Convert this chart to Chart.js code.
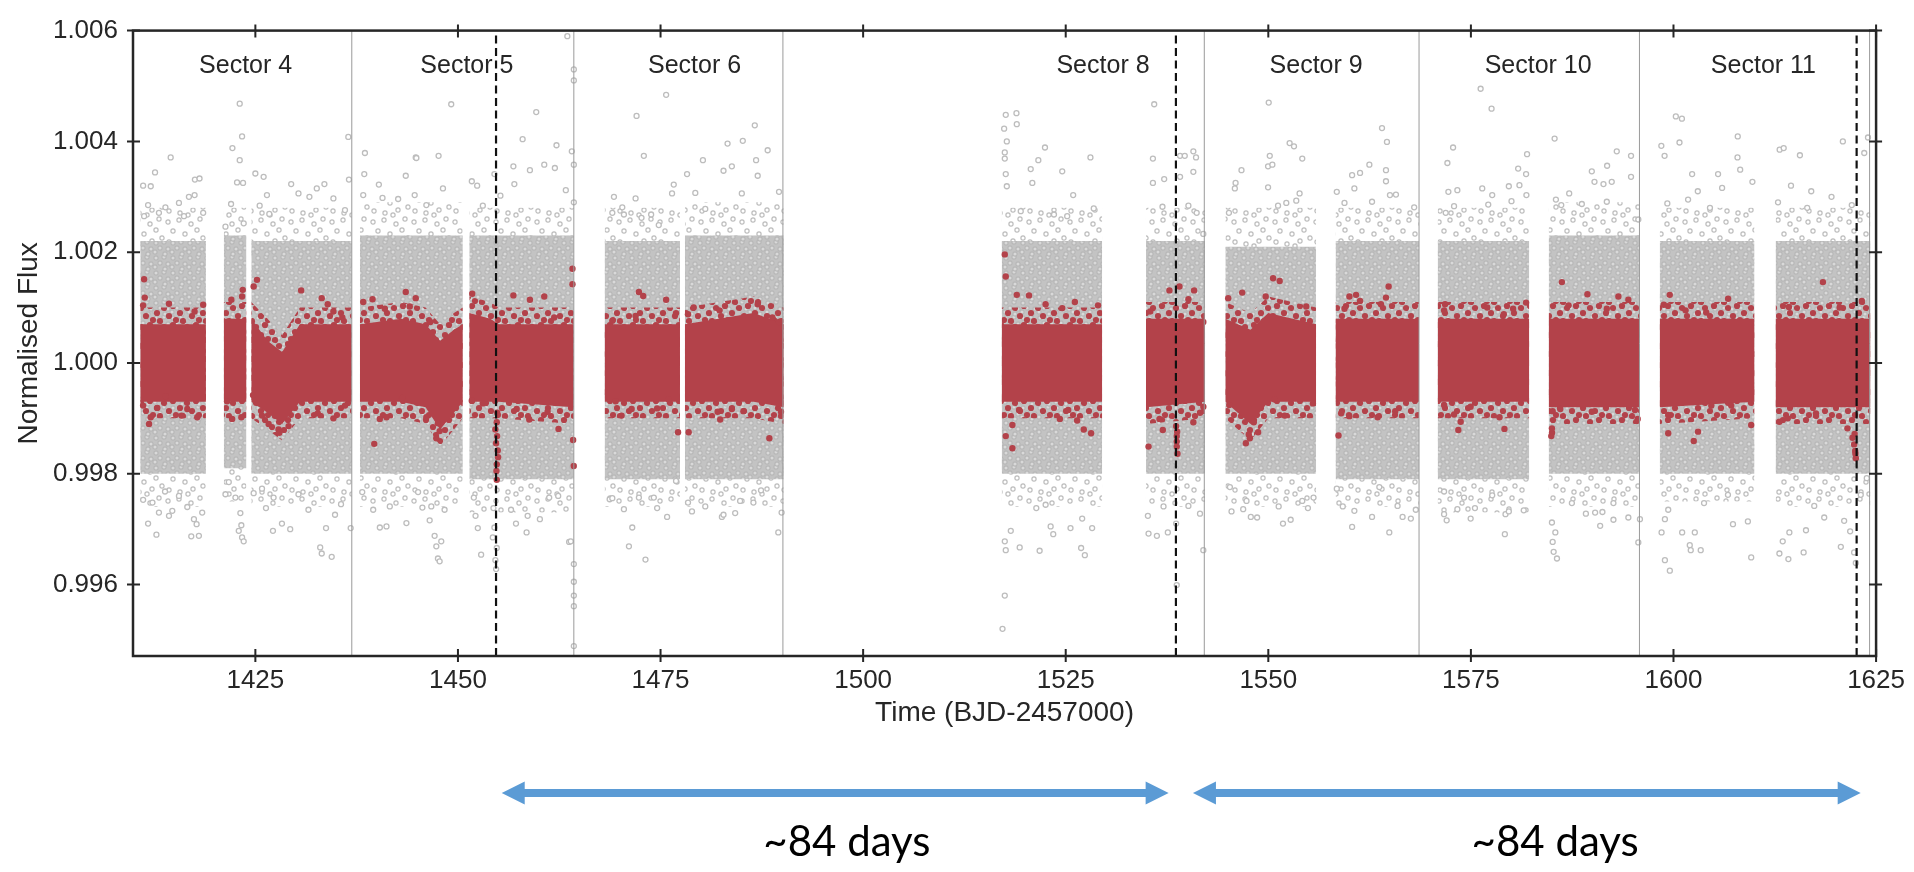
<!DOCTYPE html>
<html>
<head>
<meta charset="utf-8">
<title>Light curve, sectors 4-11</title>
<script src="https://cdn.jsdelivr.net/npm/chart.js@4.4.0/dist/chart.umd.min.js"></script>
<style>
  html, body { margin: 0; padding: 0; background: #fff; }
</style>
</head>
<body>
<canvas id="lc" width="1914" height="872"></canvas>
<script>
// axis limits
const X_MIN = 1409.9, X_MAX = 1625;
const Y_MIN = 0.99471, Y_MAX = 1.006;

// orbit segments (time ranges with data)
const segStart = [1410.8, 1421.1, 1424.5, 1437.9, 1451.4, 1468.1, 1478.0, 1517.1, 1534.9, 1544.7, 1558.3, 1570.9, 1584.6, 1598.3, 1612.6];
const segEnd   = [1418.9, 1423.9, 1436.9, 1450.6, 1464.3, 1477.4, 1490.2, 1529.5, 1542.2, 1555.9, 1568.6, 1582.2, 1595.8, 1610.0, 1624.3];
// dense part of the raw (grey) cloud, and its thinner fringe
const grayHi   = [1.0022, 1.0023, 1.0022, 1.0023, 1.0023, 1.0022, 1.0023, 1.0022, 1.0022, 1.0021, 1.0022, 1.0022, 1.0023, 1.0022, 1.0022];
const grayLo   = [0.9980, 0.9981, 0.9980, 0.9980, 0.9979, 0.9979, 0.9979, 0.9980, 0.9980, 0.9980, 0.9979, 0.9979, 0.9980, 0.9980, 0.9980];
const fringeHi = [1.0028, 1.0028, 1.0028, 1.0029, 1.0028, 1.0028, 1.0029, 1.0028, 1.0028, 1.0028, 1.0028, 1.0028, 1.0029, 1.0028, 1.0028];
const fringeLo = [0.9974, 0.9975, 0.9974, 0.9974, 0.9973, 0.9974, 0.9974, 0.9974, 0.9974, 0.9974, 0.9974, 0.9973, 0.9974, 0.9975, 0.9974];

// binned (red) cloud: solid core and ragged edge, knots per segment split by null
const redKnotT = [
  1410.8, 1418.9, null,
  1421.1, 1423.9, null,
  1424.5, 1426.5, 1428.3, 1430.5, 1436.9, null,
  1437.9, 1443.0, 1446.0, 1447.8, 1449.5, 1450.6, null,
  1451.4, 1454.0, 1455.0, 1464.3, null,
  1468.1, 1477.4, null,
  1478.0, 1486.5, 1490.2, null,
  1517.1, 1529.5, null,
  1534.9, 1542.2, null,
  1544.7, 1547.8, 1550.0, 1555.9, null,
  1558.3, 1568.6, null,
  1570.9, 1582.2, null,
  1584.6, 1595.8, null,
  1598.3, 1610.0, null,
  1612.6, 1624.3
];
const redHi = [
  1.0007, 1.0007, null,
  1.0008, 1.0008, null,
  1.0008, 1.0004, 1.0002, 1.0007, 1.0007, null,
  1.0007, 1.0008, 1.0007, 1.0004, 1.0006, 1.0007, null,
  1.0009, 1.0008, 1.0007, 1.0007, null,
  1.0007, 1.0007, null,
  1.0007, 1.0009, 1.0007, null,
  1.0007, 1.0007, null,
  1.0008, 1.0008, null,
  1.0008, 1.0006, 1.0009, 1.0007, null,
  1.0008, 1.0008, null,
  1.0008, 1.0008, null,
  1.0008, 1.0008, null,
  1.0008, 1.0008, null,
  1.0008, 1.0008
];
const redLo = [
  0.9993, 0.9993, null,
  0.9993, 0.9993, null,
  0.9993, 0.9991, 0.9989, 0.9993, 0.9993, null,
  0.9993, 0.9993, 0.9992, 0.9988, 0.9991, 0.9993, null,
  0.9993, 0.9993, 0.9993, 0.9992, null,
  0.9993, 0.9993, null,
  0.9993, 0.9993, 0.9992, null,
  0.9993, 0.9993, null,
  0.9992, 0.9993, null,
  0.9993, 0.9989, 0.9993, 0.9993, null,
  0.9993, 0.9993, null,
  0.9993, 0.9993, null,
  0.9992, 0.9992, null,
  0.9992, 0.9993, null,
  0.9992, 0.9992
];
const redOuterHi = [
  1.0010, 1.0010, null,
  1.0011, 1.0011, null,
  1.0011, 1.0008, 1.0005, 1.0010, 1.0010, null,
  1.0010, 1.0011, 1.0010, 1.0007, 1.0009, 1.0010, null,
  1.0012, 1.0011, 1.0010, 1.0010, null,
  1.0010, 1.0010, null,
  1.0010, 1.0012, 1.0010, null,
  1.0010, 1.0010, null,
  1.0011, 1.0011, null,
  1.0011, 1.0009, 1.0012, 1.0010, null,
  1.0011, 1.0011, null,
  1.0011, 1.0011, null,
  1.0011, 1.0011, null,
  1.0011, 1.0011, null,
  1.0011, 1.0011
];
const redOuterLo = [
  0.9990, 0.9990, null,
  0.9990, 0.9990, null,
  0.9990, 0.9988, 0.9986, 0.9990, 0.9990, null,
  0.9990, 0.9990, 0.9989, 0.9985, 0.9988, 0.9990, null,
  0.9990, 0.9990, 0.9990, 0.9989, null,
  0.9990, 0.9990, null,
  0.9990, 0.9990, 0.9989, null,
  0.9990, 0.9990, null,
  0.9989, 0.9990, null,
  0.9990, 0.9986, 0.9990, 0.9990, null,
  0.9990, 0.9990, null,
  0.9990, 0.9990, null,
  0.9989, 0.9989, null,
  0.9989, 0.9990, null,
  0.9989, 0.9989
];

// scattered raw points outside the dense cloud [time, flux]
const grayS4 = [
  [1411.15,1.0032],[1412.09,1.00319],[1412.62,1.00344],[1414.55,1.00371],[1417.54,1.00331],[1418.11,1.00333],[1418.56,1.00271],[1411.76,1.00285],
  [1413.1,1.00271],[1415.57,1.00289],[1416.8,1.003],[1417.5,1.00303],[1413.9,1.00281],[1411.27,1.00265],[1416.19,1.00265],
  [1411.15,0.99753],[1411.76,0.9971],[1412.79,0.9969],[1413.1,0.9973],[1414.34,0.99724],[1414.75,0.99733],[1417.09,0.99687],[1418.03,0.99688],
  [1417.42,0.99718],[1417.75,0.99709],[1416.6,0.9974],[1418.44,0.9973],[1412.3,0.99748],[1413.85,0.99768],[1415.57,0.9976],
  [1423.07,1.00468],[1423.36,1.00409],[1422.17,1.00388],[1423.07,1.00366],[1422.74,1.00326],[1423.48,1.00325],[1422.0,1.00287],[1421.31,1.00246],[1423.56,1.00252],
  [1421.31,0.99763],[1421.72,0.99785],[1422.54,0.99757],[1423.15,0.99729],[1422.95,0.99697],[1423.36,0.99685],[1423.56,0.99678],[1423.27,0.99707],
  [1425.0,1.00342],[1426.02,1.00336],[1426.43,1.00303],[1429.42,1.00323],[1431.67,1.003],[1432.58,1.00315],[1433.52,1.00323],[1434.63,1.00297],
  [1436.47,1.00408],[1436.55,1.00331],[1426.72,1.00269],[1430.32,1.00306],[1436.06,1.00276],[1425.53,1.00284],
  [1424.79,0.99765],[1425.82,0.99773],[1426.31,0.99738],[1427.25,0.99757],[1428.28,0.9971],[1429.3,0.997],[1427.17,0.99697],[1433.0,0.99667],
  [1433.19,0.99656],[1434.42,0.9965],[1433.72,0.99702],[1434.83,0.99726],[1435.57,0.99745],[1436.76,0.99702],[1431.55,0.99735],[1430.32,0.99763]
];
const grayS5 = [
  [1438.52,1.00379],[1438.44,1.00341],[1440.24,1.00322],[1443.56,1.00338],[1444.79,1.00371],[1447.61,1.00374],[1449.17,1.00467],[1440.69,1.00298],
  [1444.66,1.00303],[1446.1,1.00285],[1448.15,1.00315],[1442.62,1.00296],[1438.31,1.00303],[1444.87,1.0037],
  [1447.12,0.99688],[1447.33,0.99669],[1447.53,0.99647],[1447.74,0.99642],[1447.94,0.99678],[1446.51,0.99716],[1446.71,0.99741],[1448.35,0.99735],
  [1438.19,0.99767],[1439.54,0.99735],[1440.36,0.99703],[1441.18,0.99705],[1441.59,0.99741],[1443.64,0.99711],[1445.61,0.99739],[1445.08,0.99767],
  [1451.71,1.00328],[1452.37,1.0032],[1454.5,1.00341],[1456.84,1.00355],[1457.98,1.00404],[1459.66,1.00453],[1462.16,1.00393],[1458.88,1.00348],
  [1460.65,1.00358],[1461.96,1.00352],[1464.05,1.00382],[1456.96,1.00323],[1463.31,1.00312],[1453.07,1.00284],[1455.24,1.00302],
  [1464.3,1.0053],[1464.3,1.0051],[1463.5,1.0059],[1464.3,1.00358],[1464.3,1.0029],
  [1454.79,0.99666],[1454.62,0.99644],[1454.71,0.99628],[1454.5,0.99703],[1454.3,0.99685],[1454.38,0.99738],
  [1451.96,0.99757],[1452.17,0.99724],[1452.45,0.99702],[1452.86,0.99654],[1457.16,0.9971],[1458.47,0.99694],[1460.11,0.99718],[1458.6,0.99724],
  [1462.37,0.9976],[1463.72,0.99677],[1456.55,0.99735],[1461.26,0.99757],
  [1463.92,0.99678],[1464.3,0.99637],[1464.3,0.99605],[1464.3,0.9958],[1464.3,0.99561],[1464.3,0.99489]
];
const grayS6 = [
  [1475.69,1.00484],[1472.04,1.00446],[1472.94,1.00374],[1469.25,1.003],[1471.92,1.00297],[1473.84,1.00268],[1476.63,1.00322],[1476.42,1.00306],
  [1470.48,1.00268],[1470.28,1.00281],[1472.65,1.00262],[1474.78,1.00249],[1469.05,1.00271],
  [1468.72,0.99754],[1469.05,0.99756],[1470.48,0.99736],[1471.51,0.99703],[1471.1,0.99669],[1473.14,0.99645],[1474.58,0.99738],[1475.81,0.99722],
  [1476.91,0.99787],[1472.33,0.99757],[1474.17,0.99757],
  [1478.27,1.00341],[1479.29,1.00307],[1480.23,1.00366],[1483.27,1.00396],[1485.15,1.00401],[1486.63,1.00429],[1488.22,1.00384],[1486.79,1.00366],
  [1483.8,1.00355],[1482.77,1.00347],[1489.62,1.00309],[1486.99,1.00338],[1485.03,1.00306],[1480.52,1.00278],
  [1478.39,0.99748],[1478.88,0.99732],[1482.57,0.99722],[1482.77,0.99726],[1484.21,0.99729],[1486.46,0.99748],[1487.4,0.9977],[1489.53,0.99694],
  [1489.94,0.9973],[1484.82,0.99751],[1480.52,0.99741]
];
const grayS8 = [
  [1517.6,1.00448],[1518.92,1.00451],[1518.96,1.00431],[1517.4,1.00423],[1517.73,1.004],[1517.48,1.0038],[1517.48,1.00369],[1522.44,1.00389],
  [1521.62,1.00366],[1524.57,1.00346],[1528.05,1.00371],[1520.68,1.0035],[1517.6,1.00341],[1517.73,1.00319],[1520.88,1.00325],[1525.92,1.00303],
  [1528.46,1.00279],[1525.18,1.00265],[1523.55,1.00268],[1519.45,1.00274],
  [1517.2,0.9952],[1517.48,0.9958],[1517.6,0.99662],[1517.48,0.99678],[1518.22,0.99697],[1519.32,0.99667],[1521.78,0.99661],[1526.9,0.99666],
  [1527.36,0.99653],[1523.14,0.99705],[1523.46,0.99691],[1525.59,0.99702],[1528.26,0.99702],[1521.37,0.99738],[1522.52,0.99744],[1527.03,0.99719],
  [1535.92,1.00467],[1535.76,1.00369],[1537.15,1.00332],[1535.76,1.00325],[1539.11,1.00374],[1540.75,1.00382],[1541.08,1.00371],[1539.69,1.00374],
  [1539.11,1.00336],[1540.75,1.00345],[1536.94,1.00282],[1540.14,1.00284],[1541.16,1.00271],[1541.98,1.00233],
  [1535.14,0.99724],[1536.25,0.99688],[1537.6,0.99694],[1535.22,0.99692],[1538.62,0.9971],[1538.7,0.99599],[1541.98,0.99662],[1541.57,0.99728],
  [1540.14,0.99742],[1537.07,0.99741]
];
const grayS9 = [
  [1550.05,1.0047],[1552.63,1.00397],[1553.17,1.00391],[1554.19,1.00369],[1550.18,1.00374],[1549.97,1.00355],[1550.5,1.00358],[1546.69,1.00348],
  [1545.96,1.00325],[1545.87,1.00315],[1549.97,1.00317],[1553.86,1.00306],[1551.2,1.00284],[1552.22,1.00289],[1545.14,1.00271],[1553.45,1.00293],
  [1545.46,0.99732],[1545.26,0.99776],[1546.9,0.99736],[1547.84,0.99722],[1548.62,0.99721],[1551.81,0.9971],[1552.76,0.99717],[1554.19,0.99751],
  [1555.58,0.99757],[1554.89,0.99738],[1551.28,0.99741],[1547.31,0.99751],
  [1564.03,1.00424],[1564.64,1.00399],[1564.52,1.00348],[1562.47,1.00358],[1560.34,1.00339],[1561.32,1.00343],[1558.45,1.00309],[1560.62,1.00315],
  [1564.52,1.00328],[1565.01,1.00303],[1565.75,1.00304],[1568.0,1.00281],[1559.4,1.00289],[1562.8,1.00291],
  [1558.45,0.99773],[1559.19,0.99741],[1560.34,0.99704],[1560.62,0.99733],[1562.8,0.99722],[1564.93,0.99694],[1565.95,0.99742],[1566.57,0.99722],
  [1567.59,0.99719],[1568.2,0.99735],[1563.7,0.99776]
];
const grayS10 = [
  [1576.2,1.00495],[1577.55,1.00459],[1572.8,1.00389],[1572.1,1.00361],[1581.93,1.00377],[1580.83,1.00351],[1581.81,1.00341],[1572.22,1.00309],
  [1573.33,1.00312],[1576.4,1.00315],[1577.63,1.00303],[1579.68,1.00319],[1580.99,1.00321],[1581.85,1.00303],[1571.89,1.00271],[1572.92,1.00283],
  [1580.01,1.00292],[1577.14,1.00286],
  [1571.69,0.99768],[1571.69,0.99727],[1572.01,0.99716],[1573.33,0.99736],[1574.97,0.99719],[1575.5,0.99738],[1579.27,0.99727],[1579.19,0.99691],
  [1579.68,0.99732],[1581.52,0.99734],[1577.63,0.99761],[1574.15,0.99757],
  [1585.33,1.00405],[1593.0,1.00382],[1594.76,1.00374],[1591.81,1.00356],[1594.76,1.00336],[1589.92,1.00346],[1590.25,1.00327],[1591.36,1.00323],
  [1592.38,1.00327],[1585.49,1.00295],[1587.13,1.00306],[1586.15,1.00285],[1588.69,1.00287],[1591.77,1.00291],[1595.66,1.00259],
  [1585.0,0.99712],[1585.21,0.99659],[1585.62,0.99647],[1585.09,0.99677],[1585.42,0.99694],[1589.19,0.99728],[1590.33,0.9973],[1590.95,0.99706],
  [1591.23,0.99731],[1592.59,0.99717],[1594.43,0.99721],[1595.66,0.99676],[1595.86,0.99718],[1592.59,0.99747],[1587.46,0.99747]
];
const grayS11 = [
  [1600.29,1.00445],[1601.04,1.00441],[1598.5,1.00392],[1600.74,1.00398],[1607.93,1.00409],[1608.23,1.00349],[1603.0,1.0031],[1606.0,1.00316],
  [1599.24,1.00288],[1609.74,1.00327],[1598.9,1.00374],[1607.9,1.00371],[1602.3,1.00341],[1605.5,1.00341],[1604.5,1.0028],[1601.8,1.00295],
  [1598.94,0.99644],[1599.55,0.99625],[1598.53,0.99694],[1598.94,0.99718],[1599.35,0.99735],[1602.01,0.99671],[1602.13,0.99662],[1603.36,0.99662],
  [1602.63,0.99694],[1601.07,0.99694],[1607.34,0.99709],[1609.59,0.99649],[1609.18,0.99714],[1603.77,0.99747],[1606.72,0.99762],
  [1613.1,1.00385],[1613.6,1.00388],[1615.6,1.00375],[1620.9,1.004],[1623.54,1.00379],[1624.0,1.00407],[1617.0,1.0031],[1619.5,1.003],
  [1614.5,1.0032],[1622.0,1.00285],[1616.5,1.0028],[1612.9,1.0029],
  [1613.07,0.99656],[1614.18,0.99646],[1613.48,0.99678],[1616.06,0.99658],[1616.35,0.99698],[1614.3,0.99694],[1620.65,0.99668],[1621.8,0.99696],
  [1622.29,0.99658],[1622.5,0.99639],[1621.06,0.99715],[1618.6,0.99721],[1623.85,0.99792],[1623.11,0.99762],[1617.37,0.99742]
];

// scattered binned points around the dense red band [time, flux]
const redS4 = [
  [1411.27,1.00151],[1411.35,1.00118],[1411.15,1.00104],[1414.34,1.00107],[1417.5,1.00093],[1418.56,1.00105],[1411.88,0.9989],[1412.09,0.99902],
  [1411.15,0.99923],[1412.9,0.99919],[1415.9,0.99905],[1417.83,0.99902],[1416.6,0.99917],[1413.93,0.9994],
  [1423.44,1.00132],[1422.04,1.00114],[1421.51,0.99931],[1422.13,0.99899],[1423.27,0.99902],[1423.36,1.0012],
  [1425.2,1.0015],[1424.79,1.00138],[1430.65,1.00131],[1433.19,1.00117],[1433.93,1.00106],[1434.63,1.00093],[1435.73,1.00082],[1426.64,0.9989],
  [1427.86,0.9988],[1427.95,0.99874],[1429.1,0.99886],[1432.7,0.99909],[1434.63,0.999],[1436.06,0.99923],[1424.71,0.99942],[1425.82,0.99905]
];
const redS5 = [
  [1438.31,1.0011],[1439.46,1.00115],[1440.98,1.00098],[1443.56,1.00128],[1444.05,1.00102],[1444.79,1.00117],[1446.59,1.00074],[1439.67,0.99854],
  [1440.36,0.99899],[1441.18,0.99902],[1446.1,0.99902],[1447.33,0.99864],[1447.74,0.99877],[1447.53,0.99891],[1443.11,0.99937],
  [1451.76,1.00125],[1456.84,1.00122],[1458.88,1.00114],[1460.65,1.0012],[1464.13,1.0017],[1464.13,1.00142],[1461.88,1.00082],[1451.71,0.99932],
  [1453.07,0.99927],[1457.25,0.99917],[1458.8,0.99898],[1462.41,0.99881],[1464.21,0.99861],[1464.29,0.99814],[1461.06,0.99912],
  [1454.79,0.99893],[1454.83,0.99868],[1454.91,0.99842],[1454.79,0.99817],[1454.79,0.99789],[1454.71,0.99855],[1454.95,0.9983],[1454.62,0.9988],
  [1454.75,0.99805],[1454.85,0.9991]
];
const redS6 = [
  [1469.05,1.00076],[1472.33,1.00128],[1472.86,1.00121],[1475.69,1.00114],[1471.92,1.00085],[1476.91,1.0009],[1470.19,0.99905],[1471.43,0.99917],
  [1474.58,0.99918],[1477.16,0.99875],[1476.01,0.99934],[1469.46,0.99931],
  [1478.39,1.00088],[1479.09,1.001],[1482.28,1.00095],[1486.99,1.00106],[1488.8,1.00082],[1489.62,1.00074],[1478.47,0.99875],[1482.36,0.99898],
  [1482.04,0.99912],[1485.23,0.99913],[1488.43,0.99864],[1489.86,0.99912],[1483.8,0.99917]
];
const redS8 = [
  [1517.48,1.00196],[1517.6,1.00156],[1518.96,1.00123],[1520.47,1.00122],[1522.52,1.00106],[1524.57,1.00099],[1526.13,1.0011],[1528.99,1.00104],
  [1517.6,0.99868],[1518.42,0.99846],[1518.42,0.99888],[1519.24,0.99915],[1524.28,0.99899],[1525.31,0.99915],[1527.23,0.9988],[1528.13,0.99873],
  [1526.41,0.99896],
  [1537.8,1.00131],[1539.03,1.00138],[1540.14,1.00115],[1540.84,1.00131],[1535.43,1.00093],[1541.98,1.00074],[1535.22,0.99849],[1536.57,0.99899],
  [1536.98,0.99879],[1538.7,0.99868],[1538.7,0.99849],[1538.79,0.99836],[1538.62,0.99886],[1541.57,0.9991],[1541.98,0.99921],[1540.75,0.99893],
  [1538.7,0.99858],[1538.75,0.99876]
];
const redS9 = [
  [1545.05,1.00117],[1546.78,1.00127],[1550.59,1.00153],[1551.4,1.00148],[1549.68,1.0012],[1554.68,1.00102],[1547.59,0.99871],[1548.21,0.99893],
  [1547.23,0.99855],[1547.72,0.99864],[1548.74,0.99875],[1550.79,0.99934],[1552.02,0.99905],[1545.18,0.99924],[1555.5,0.99927],
  [1560.01,1.0012],[1560.83,1.00123],[1561.32,1.00112],[1564.85,1.00138],[1564.52,1.00118],[1563.9,1.00106],[1559.4,1.00098],[1558.66,0.99869],
  [1558.99,0.99909],[1560.01,0.99904],[1563.49,0.99902],[1565.66,0.99913],[1568.2,0.99937]
];
const redS10 = [
  [1571.81,1.00106],[1571.69,1.00095],[1577.02,1.001],[1579.06,1.00088],[1580.21,1.00098],[1581.81,1.00109],[1572.92,0.99907],[1573.74,0.99894],
  [1573.45,0.99879],[1574.97,0.99921],[1578.53,0.99902],[1579.14,0.99881],[1571.69,0.99924],
  [1586.23,1.00146],[1589.38,1.00124],[1593.2,1.0012],[1594.43,1.00114],[1587.05,1.00104],[1591.77,1.00098],[1585.01,0.99874],[1584.92,0.99868],
  [1585.09,0.99913],[1586.03,0.99917],[1589.92,0.99912],[1595.58,0.99899],[1595.25,0.99915],[1585.0,0.99882]
];
const redS11 = [
  [1599.35,0.99873],[1602.5,0.99859],[1603.03,0.99876],[1609.59,0.99888],[1599.35,0.99906],[1607.13,0.99923],[1604.67,0.99923],[1599.54,1.00123],
  [1604.04,1.00091],[1606.74,1.00116],[1601.49,1.00095],[1598.8,1.00105],
  [1613.07,0.99894],[1614.1,0.999],[1617.58,0.99909],[1621.47,0.99882],[1622.09,0.99865],[1622.42,0.99841],[1622.5,0.99828],[1622.29,0.99853],
  [1622.45,0.99836],[1622.35,0.99872],[1618.44,1.00146],[1623.24,1.00112],[1614.24,1.00101],[1620.5,1.001]
];

// sector boundaries (thin grey) and the marked times (dashed)
const sectorEdges = [1436.9, 1464.3, 1490.1, 1542.1, 1568.6, 1595.8, 1624.2];
const dashedTimes = [1454.7, 1538.6, 1622.6];
const sectorNames = ['Sector 4', 'Sector 5', 'Sector 6', 'Sector 8', 'Sector 9', 'Sector 10', 'Sector 11'];
const sectorLabelT = [1423.8, 1451.1, 1479.2, 1529.6, 1555.9, 1583.3, 1611.1];
const sectorLabelF = 1.00535;

// ~84 day spans drawn under the axis
const arrowFrom = [1455.4, 1540.7];
const arrowTo = [1537.7, 1623.1];
const arrowLabelT = [1498.0, 1585.4];
const arrowLabels = ['~84 days', '~84 days'];

const GRAY = '#bdbdbd';
const RED = '#b3424a';

// texture tiles so the dense bands read like a cloud of markers
function markTile(w, h, bg, spots, radius, stroke, inner) {
  const c = document.createElement('canvas');
  c.width = w; c.height = h;
  const g = c.getContext('2d');
  if (bg) { g.fillStyle = bg; g.fillRect(0, 0, w, h); }
  spots.forEach(p => {
    for (let dx = -w; dx <= w; dx += w) {
      for (let dy = -h; dy <= h; dy += h) {
        g.beginPath();
        g.arc(p[0] + dx, p[1] + dy, radius, 0, Math.PI * 2);
        g.fillStyle = inner;
        g.fill();
        if (stroke) { g.lineWidth = 1.2; g.strokeStyle = stroke; g.stroke(); }
      }
    }
  });
  return g.createPattern(c, 'repeat');
}
const coreFill = markTile(17, 15, '#c3c3c3',
  [[3, 3], [11, 2], [7, 8], [15, 9], [2, 12], [12, 14]], 2.1, '#b8b8b8', '#d9d9d9');
const fringeFill = markTile(41, 31, null,
  [[4, 5], [15, 3], [27, 7], [36, 2], [9, 14], [21, 17], [33, 13], [5, 25], [16, 27], [29, 24], [39, 21], [24, 29]],
  2.1, '#bdbdbd', '#ffffff');
const redEdgeFill = markTile(23, 19, null,
  [[3, 4], [12, 2], [19, 9], [8, 12], [15, 16], [22, 17]], 3.1, null, RED);

function toXY(pairs) {
  return pairs.map(p => ({ x: p[0], y: p[1] }));
}

function bandPair(upper, lower, color, order) {
  return [
    { type: 'line', data: upper, borderWidth: 0, pointRadius: 0, fill: '+1', backgroundColor: color, tension: 0, order: order },
    { type: 'line', data: lower, borderWidth: 0, pointRadius: 0, fill: false, tension: 0, order: order }
  ];
}

const datasets = [];

// vertical lines
dashedTimes.forEach(t => {
  datasets.push({ type: 'line', data: [{ x: t, y: Y_MIN }, { x: t, y: Y_MAX }], borderColor: '#111',
    borderWidth: 2.2, borderDash: [8, 4.5], pointRadius: 0, fill: false, order: 0 });
});
sectorEdges.forEach(t => {
  datasets.push({ type: 'line', data: [{ x: t, y: Y_MIN }, { x: t, y: Y_MAX }], borderColor: '#9a9a9a',
    borderWidth: 1, pointRadius: 0, fill: false, order: 1 });
});

// red binned points
datasets.push({
  type: 'scatter', data: toXY([].concat(redS4, redS5, redS6, redS8, redS9, redS10, redS11)),
  pointRadius: 3.2, pointBackgroundColor: RED, pointBorderWidth: 0, order: 2
});

// red band: solid core plus dotted edge, one pair per segment
let knotIdx = [];
const redSegs = [];
redKnotT.forEach((t, i) => {
  if (t === null) { redSegs.push(knotIdx); knotIdx = []; return; }
  knotIdx.push(i);
});
if (knotIdx.length) redSegs.push(knotIdx);
redSegs.forEach(idx => {
  const pts = arr => idx.map(i => ({ x: redKnotT[i], y: arr[i] }));
  datasets.push(...bandPair(pts(redHi), pts(redLo), RED, 3));
  datasets.push(...bandPair(pts(redOuterHi), pts(redOuterLo), redEdgeFill, 3.5));
});

// raw grey points
datasets.push({
  type: 'scatter', data: toXY([].concat(grayS4, grayS5, grayS6, grayS8, grayS9, grayS10, grayS11)),
  pointRadius: 2.5, pointBackgroundColor: '#fff', pointBorderColor: GRAY, pointBorderWidth: 1.3, order: 4
});

// grey dense band and fringe
segStart.forEach((s, i) => {
  const e = segEnd[i];
  datasets.push(...bandPair([{ x: s, y: grayHi[i] }, { x: e, y: grayHi[i] }],
                            [{ x: s, y: grayLo[i] }, { x: e, y: grayLo[i] }], coreFill, 5));
  datasets.push(...bandPair([{ x: s, y: fringeHi[i] }, { x: e, y: fringeHi[i] }],
                            [{ x: s, y: fringeLo[i] }, { x: e, y: fringeLo[i] }], fringeFill, 6));
});

function drawArrow(ctx, x1, x2, y) {
  const head = 23, half = 11.5, shaft = 4;
  ctx.beginPath();
  ctx.moveTo(x1, y);
  ctx.lineTo(x1 + head, y - half);
  ctx.lineTo(x1 + head, y - shaft);
  ctx.lineTo(x2 - head, y - shaft);
  ctx.lineTo(x2 - head, y - half);
  ctx.lineTo(x2, y);
  ctx.lineTo(x2 - head, y + half);
  ctx.lineTo(x2 - head, y + shaft);
  ctx.lineTo(x1 + head, y + shaft);
  ctx.lineTo(x1 + head, y + half);
  ctx.closePath();
  ctx.fill();
}

const decorations = {
  id: 'decorations',
  afterDraw(chart) {
    const { ctx, chartArea: area, scales } = chart;
    const xs = scales.x, ys = scales.y;
    ctx.save();

    // sector names
    ctx.fillStyle = '#262626';
    ctx.font = '25px "Liberation Sans", Arial, sans-serif';
    ctx.textAlign = 'center';
    ctx.textBaseline = 'middle';
    sectorNames.forEach((name, i) => {
      ctx.fillText(name, xs.getPixelForValue(sectorLabelT[i]), ys.getPixelForValue(sectorLabelF));
    });

    // frame
    ctx.strokeStyle = '#262626';
    ctx.lineWidth = 2.5;
    ctx.strokeRect(area.left, area.top, area.right - area.left, area.bottom - area.top);

    // in-out ticks on all four sides
    ctx.lineWidth = 2;
    ctx.beginPath();
    xs.ticks.forEach(t => {
      const px = xs.getPixelForValue(t.value);
      ctx.moveTo(px, area.top - 6); ctx.lineTo(px, area.top + 7);
      ctx.moveTo(px, area.bottom - 7); ctx.lineTo(px, area.bottom + 6);
    });
    ys.ticks.forEach(t => {
      const py = ys.getPixelForValue(t.value);
      ctx.moveTo(area.left - 6, py); ctx.lineTo(area.left + 7, py);
      ctx.moveTo(area.right - 7, py); ctx.lineTo(area.right + 6, py);
    });
    ctx.stroke();

    // axis titles
    ctx.font = '28px "Liberation Sans", Arial, sans-serif';
    ctx.fillText('Time (BJD-2457000)', (area.left + area.right) / 2, 713);
    ctx.save();
    ctx.translate(29, (area.top + area.bottom) / 2);
    ctx.rotate(-Math.PI / 2);
    ctx.fillText('Normalised Flux', 0, 0);
    ctx.restore();

    // ~84 day arrows
    ctx.fillStyle = '#5b9bd5';
    arrowFrom.forEach((t, i) => {
      drawArrow(ctx, xs.getPixelForValue(t), xs.getPixelForValue(arrowTo[i]), 793);
    });
    ctx.fillStyle = '#000';
    ctx.font = '42px Lato, "Open Sans", sans-serif';
    ctx.textBaseline = 'alphabetic';
    arrowLabels.forEach((txt, i) => {
      ctx.fillText(txt, xs.getPixelForValue(arrowLabelT[i]), 856);
    });

    ctx.restore();
  }
};

new Chart(document.getElementById('lc'), {
  type: 'scatter',
  data: { datasets: datasets },
  options: {
    responsive: false,
    animation: false,
    devicePixelRatio: 1,
    layout: { padding: { top: 16, right: 31, left: 0, bottom: 0 } },
    plugins: { legend: { display: false }, tooltip: { enabled: false } },
    scales: {
      x: {
        type: 'linear', min: X_MIN, max: X_MAX,
        afterFit: s => { s.height = 216; },
        grid: { display: false, drawTicks: false },
        border: { display: false },
        ticks: {
          stepSize: 25, includeBounds: false, autoSkip: false, maxRotation: 0, padding: 9,
          color: '#262626', font: { family: '"Liberation Sans", Arial, sans-serif', size: 26 },
          callback: v => String(v)
        }
      },
      y: {
        type: 'linear', min: Y_MIN, max: Y_MAX,
        afterFit: s => { s.width = 133; },
        grid: { display: false, drawTicks: false },
        border: { display: false },
        ticks: {
          stepSize: 0.002, includeBounds: false, autoSkip: false, padding: 15,
          color: '#262626', font: { family: '"Liberation Sans", Arial, sans-serif', size: 26 },
          callback: v => v.toFixed(3)
        }
      }
    }
  },
  plugins: [decorations]
});
</script>
</body>
</html>
